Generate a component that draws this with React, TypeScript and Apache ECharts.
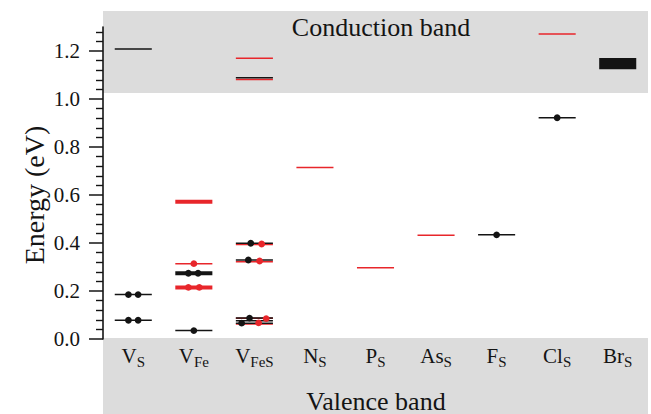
import React, { useEffect, useRef } from "react";
import * as echarts from "echarts";

const categories = ["V_S", "V_Fe", "V_FeS", "N_S", "P_S", "As_S", "F_S", "Cl_S", "Br_S"];
const catMain = ["V", "V", "V", "N", "P", "As", "F", "Cl", "Br"];
const catSub = ["S", "Fe", "FeS", "S", "S", "S", "S", "S", "S"];

const majorTicks = [0, 0.2, 0.4, 0.6, 0.8, 1.0, 1.2];
const minorTicks = [
  0.04, 0.08, 0.12, 0.16, 0.24, 0.28, 0.32, 0.36, 0.44, 0.48, 0.52, 0.56,
  0.64, 0.68, 0.72, 0.76, 0.84, 0.88, 0.92, 0.96, 1.04, 1.08, 1.12, 1.16,
  1.24, 1.28,
];
const yMin = 0;
const yMax = 1.3;
const conductionBandMin = 1.025;
const valenceBandMax = 0;

// [category index, energy (eV)]
const thinBlackLevels = [
  [0, 1.208], [0, 0.185], [0, 0.078], [1, 0.035], [2, 1.089], [2, 0.399],
  [2, 0.329], [2, 0.088], [2, 0.076], [2, 0.066], [6, 0.434], [7, 0.922],
];
const thickBlackLevels = [[1, 0.274]];
const thinRedLevels = [
  [1, 0.314], [2, 1.17], [2, 1.081], [2, 0.394], [2, 0.322], [2, 0.086],
  [2, 0.063], [3, 0.715], [4, 0.297], [5, 0.432], [7, 1.271],
];
const thickRedLevels = [[1, 0.572], [1, 0.215]];
// [category index, energy low, energy high]
const blackBands = [[8, 1.124, 1.171]];
// [category index, energy, offset within the category band]
const blackDots = [
  [0, 0.185, -0.08], [0, 0.185, 0.08], [0, 0.078, -0.08], [0, 0.078, 0.08],
  [1, 0.274, -0.09], [1, 0.274, 0.07], [1, 0.035, 0], [2, 0.399, -0.06],
  [2, 0.329, -0.1], [2, 0.087, -0.08], [2, 0.066, -0.21], [6, 0.434, 0],
  [7, 0.922, 0],
];
const redDots = [
  [1, 0.314, 0], [1, 0.215, -0.09], [1, 0.215, 0.09], [2, 0.396, 0.12],
  [2, 0.325, 0.086], [2, 0.067, 0.07], [2, 0.085, 0.195],
];

const RED = "#e8262b";
const BLACK = "#141414";
const GRAY = "#dcdcdc";
const FONT = "Liberation Serif, serif";
const GRID_LEFT = 103;
const GRID_RIGHT = 3;
const GRID_TOP = 27;
const GRID_BOTTOM = 75;
const W = 651;
const H = 414;

function levelSeries(data: number[][], color: string, width: number, z: number) {
  return {
    type: "custom",
    z,
    data,
    renderItem: (params: any, api: any) => {
      const c = api.coord([api.value(0), api.value(1)]);
      const half = api.size([1, 0])[0] * 0.306;
      return {
        type: "line",
        shape: { x1: c[0] - half, y1: c[1], x2: c[0] + half, y2: c[1] },
        style: { stroke: color, lineWidth: width },
      };
    },
  };
}

function bandSeries(data: number[][], color: string, z: number) {
  return {
    type: "custom",
    z,
    data,
    renderItem: (params: any, api: any) => {
      const lo = api.coord([api.value(0), api.value(1)]);
      const hi = api.coord([api.value(0), api.value(2)]);
      const half = api.size([1, 0])[0] * 0.306;
      return {
        type: "rect",
        shape: { x: lo[0] - half, y: hi[1], width: half * 2, height: lo[1] - hi[1] },
        style: { fill: color },
      };
    },
  };
}

function dotSeries(data: number[][], color: string, z: number) {
  return {
    type: "custom",
    z,
    data,
    renderItem: (params: any, api: any) => {
      const c = api.coord([api.value(0), api.value(1)]);
      const bw = api.size([1, 0])[0];
      return {
        type: "circle",
        shape: { cx: c[0] + api.value(2) * bw, cy: c[1], r: 3.4 },
        style: { fill: color },
      };
    },
  };
}

export default function App() {
  const ref = useRef<HTMLDivElement>(null);
  useEffect(() => {
    if (!ref.current) return;
    const chart = echarts.init(ref.current, undefined, { renderer: "svg" });
    const option: any = {
      animation: false,
      backgroundColor: "#ffffff",
      textStyle: { fontFamily: FONT },
      grid: { left: GRID_LEFT, right: GRID_RIGHT, top: GRID_TOP, bottom: GRID_BOTTOM },
      xAxis: {
        type: "category",
        data: categories,
        axisLine: { show: false },
        axisTick: { show: false },
        splitLine: { show: false },
        axisLabel: {
          margin: 4,
          interval: 0,
          formatter: (v: string, i: number) => `{m|${catMain[i]}}{s|${catSub[i]}}`,
          rich: {
            m: { fontFamily: FONT, fontSize: 21, color: BLACK, lineHeight: 26, verticalAlign: "middle" },
            s: { fontFamily: FONT, fontSize: 15, color: BLACK, lineHeight: 15, verticalAlign: "bottom" },
          },
        },
      },
      yAxis: [
        {
          type: "value",
          min: yMin,
          max: yMax,
          axisLine: { show: true, lineStyle: { color: BLACK, width: 1.6 } },
          axisTick: { show: true, customValues: majorTicks, length: 14, lineStyle: { color: BLACK, width: 1.5 } },
          axisLabel: {
            customValues: majorTicks,
            margin: 23,
            fontFamily: FONT,
            fontSize: 21,
            color: BLACK,
            formatter: (v: number) => `{t|${v.toFixed(1)}}`,
            rich: { t: { fontFamily: FONT, fontSize: 21, color: BLACK } },
          },
          splitLine: { show: false },
        },
        {
          type: "value",
          min: yMin,
          max: yMax,
          position: "left",
          axisLine: { show: false },
          axisTick: { show: true, customValues: minorTicks, length: 7, lineStyle: { color: BLACK, width: 1.4 } },
          axisLabel: { show: false },
          splitLine: { show: false },
        },
      ],
      series: [
        levelSeries(thinRedLevels, RED, 1.5, 3),
        levelSeries(thickRedLevels, RED, 4, 3),
        levelSeries(thinBlackLevels, BLACK, 1.5, 4),
        levelSeries(thickBlackLevels, BLACK, 4, 4),
        bandSeries(blackBands, BLACK, 4),
        dotSeries(blackDots, BLACK, 5),
        dotSeries(redDots, RED, 6),
      ],
    };
    chart.setOption(option);

    const yCond = chart.convertToPixel({ yAxisIndex: 0 }, conductionBandMin) as number;
    const yVal = chart.convertToPixel({ yAxisIndex: 0 }, valenceBandMax) as number;
    const yMid = chart.convertToPixel({ yAxisIndex: 0 }, (yMin + yMax) / 2) as number;
    const gridW = W - GRID_LEFT - GRID_RIGHT;
    chart.setOption({
      graphic: [
        {
          type: "rect",
          z: -10,
          silent: true,
          shape: { x: GRID_LEFT, y: 11, width: gridW, height: yCond - 11 },
          style: { fill: GRAY },
        },
        {
          type: "rect",
          z: -10,
          silent: true,
          shape: { x: GRID_LEFT, y: yVal - 1, width: gridW, height: H - yVal + 1 },
          style: { fill: GRAY },
        },
        {
          type: "text",
          z: 10,
          x: 381,
          y: 27,
          style: {
            text: "Conduction band",
            fontFamily: FONT,
            fontSize: 26,
            fill: BLACK,
            textAlign: "center",
            textVerticalAlign: "middle",
          },
        },
        {
          type: "text",
          z: 10,
          x: 376,
          y: 401,
          style: {
            text: "Valence band",
            fontFamily: FONT,
            fontSize: 26,
            fill: BLACK,
            textAlign: "center",
            textVerticalAlign: "middle",
          },
        },
        {
          type: "text",
          z: 10,
          x: 34,
          y: yMid + 12,
          rotation: Math.PI / 2,
          style: {
            text: "Energy (eV)",
            fontFamily: FONT,
            fontSize: 28,
            fill: BLACK,
            textAlign: "center",
            textVerticalAlign: "middle",
          },
        },
      ],
    });
    return () => chart.dispose();
  }, []);
  return (
    <div
      ref={ref}
      style={{ position: "fixed", left: 0, top: 0, width: W, height: H }}
    />
  );
}
